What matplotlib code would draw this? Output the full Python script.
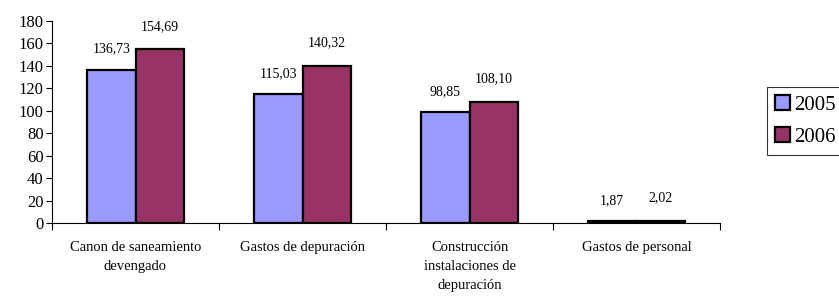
import matplotlib.pyplot as plt
import numpy as np

categories = ['Canon de saneamiento\ndevengado', 'Gastos de depuración',
              'Construcción\ninstalaciones de\ndepuración', 'Gastos de personal']
years = ['2005', '2006']
values_2005 = [136.73, 115.03, 98.85, 1.87]
values_2006 = [154.69, 140.32, 108.10, 2.02]
colors = ['#9999ff', '#993366']

plt.rcParams['font.family'] = ['Liberation Serif', 'DejaVu Serif']

fig = plt.figure(figsize=(8.39, 2.96), dpi=100)
ax = fig.add_axes([52 / 839, 1 - 223 / 296, (720 - 52) / 839, (223 - 21) / 296])

x = np.arange(len(categories))
w = 0.29
bars = []
for i, (vals, col, yr) in enumerate(zip([values_2005, values_2006], colors, years)):
    b = ax.bar(x + (i - 0.5) * w, vals, w, color=col, edgecolor='black', linewidth=1.6, label=yr)
    bars.append(b)
    for xi, v in zip(x + (i - 0.5) * w, vals):
        ax.annotate(f'{v:.2f}'.replace('.', ','), (xi, v), xytext=(0, 10 if i == 0 else 12),
                    textcoords='offset points', ha='center', va='bottom', fontsize=10)

ax.set_xlim(-0.5, len(categories) - 0.5)
ax.set_ylim(0, 180)
ax.set_yticks(range(0, 181, 20))
ax.tick_params(axis='y', labelsize=12, length=4, width=0.8, pad=2)

ax.set_xticks(np.arange(len(categories) + 1) - 0.5)
ax.set_xticklabels([])
ax.set_xticks(x, minor=True)
ax.set_xticklabels(categories, minor=True, fontsize=10.5, linespacing=1.6)
ax.tick_params(axis='x', which='major', length=5, width=0.8, direction='out')
ax.tick_params(axis='x', which='minor', length=0, pad=13)

for s in ['top', 'right']:
    ax.spines[s].set_visible(False)
ax.spines['left'].set_linewidth(0.8)
ax.spines['bottom'].set_linewidth(0.8)

leg = fig.legend(handles=bars, labels=years, loc='upper left', bbox_to_anchor=(767 / 839, 1 - 87 / 296),
                 fontsize=15, frameon=True, fancybox=False, edgecolor='black',
                 handlelength=0.7, handleheight=0.7, handletextpad=0.2,
                 borderpad=0.4, labelspacing=0.6, borderaxespad=0)
leg.get_frame().set_linewidth(0.8)

fig.savefig('out.png', dpi=100)
